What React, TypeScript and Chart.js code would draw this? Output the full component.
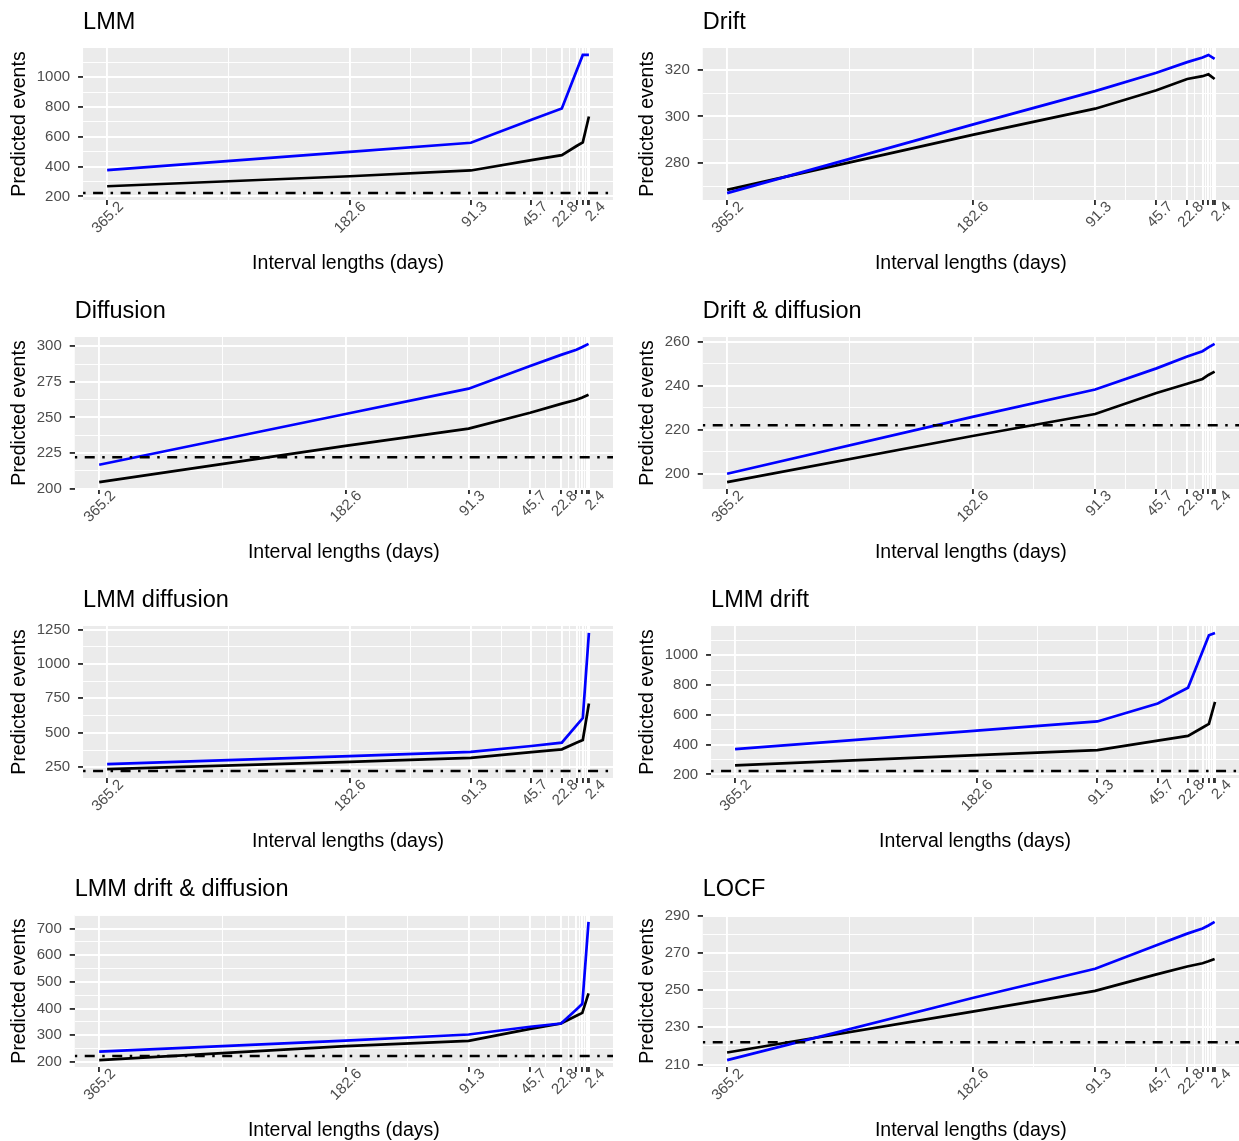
import React, { useEffect, useRef } from 'react';
import { Chart, registerables } from 'chart.js';

Chart.register(...registerables);

// ---------------- data ----------------
const X_DAYS = [365.2, 182.6, 91.3, 45.7, 22.8, 11.4, 7.0, 2.4];
const X_BREAKS = [365.2, 182.6, 91.3, 45.7, 22.8, 11.4, 7.0, 3.5, 2.4];
const X_LABELS = ['365.2', '182.6', '91.3', '45.7', '22.8', '2.4'];
const OBSERVED_EVENTS = 222;

const TITLES = [
  'LMM',
  'Drift',
  'Diffusion',
  'Drift & diffusion',
  'LMM diffusion',
  'LMM drift',
  'LMM drift & diffusion',
  'LOCF',
];
const HAS_OBSERVED = [true, false, true, true, true, true, true, true];

const LMM_BLUE = [376, 499, 560, 714, 790, 1050, 1150, 1150];
const LMM_BLACK = [268, 335, 374, 443, 477, 540, 563, 736];
const DRIFT_BLUE = [267.2, 296.5, 310.8, 318.7, 323.2, 325.2, 326.3, 324.6];
const DRIFT_BLACK = [268.6, 292.1, 303.3, 311.2, 316.0, 317.2, 318.0, 316.0];
const DIFF_BLUE = [216.7, 252.4, 270.2, 286.2, 294.0, 297.6, 299.5, 301.7];
const DIFF_BLACK = [204.5, 230.0, 242.1, 253.3, 259.5, 262.4, 264.0, 266.0];
const DRIFTDIFF_BLUE = [200.0, 225.8, 238.2, 247.8, 253.2, 255.6, 257.3, 258.9];
const DRIFTDIFF_BLACK = [196.2, 217.1, 227.1, 236.6, 240.8, 243.0, 244.8, 246.3];
const LMMDIFF_BLUE = [272, 331, 362, 404, 428, 557, 607, 1225];
const LMMDIFF_BLACK = [236, 289, 318, 360, 380, 429, 448, 712];
const LMMDRIFT_BLUE = [369, 494, 555, 675, 781, 1035, 1133, 1149];
const LMMDRIFT_BLACK = [261, 329, 363, 426, 458, 516, 539, 686];
const LMMDD_BLUE = [239, 280, 303, 332, 344, 397, 418, 725];
const LMMDD_BLACK = [207, 259, 279, 324, 344, 373, 384, 457];
const LOCF_BLUE = [212.4, 245.8, 261.5, 274.2, 280.4, 283.2, 284.8, 286.7];
const LOCF_BLACK = [216.5, 238.5, 249.6, 258.5, 262.7, 264.5, 265.5, 266.7];

const LMM_YTICKS = [200, 400, 600, 800, 1000];
const DRIFT_YTICKS = [280, 300, 320];
const DIFF_YTICKS = [200, 225, 250, 275, 300];
const DRIFTDIFF_YTICKS = [200, 220, 240, 260];
const LMMDIFF_YTICKS = [250, 500, 750, 1000, 1250];
const LMMDRIFT_YTICKS = [200, 400, 600, 800, 1000];
const LMMDD_YTICKS = [200, 300, 400, 500, 600, 700];
const LOCF_YTICKS = [210, 230, 250, 270, 290];

const BLUE_SERIES = [LMM_BLUE, DRIFT_BLUE, DIFF_BLUE, DRIFTDIFF_BLUE, LMMDIFF_BLUE, LMMDRIFT_BLUE, LMMDD_BLUE, LOCF_BLUE];
const BLACK_SERIES = [LMM_BLACK, DRIFT_BLACK, DIFF_BLACK, DRIFTDIFF_BLACK, LMMDIFF_BLACK, LMMDRIFT_BLACK, LMMDD_BLACK, LOCF_BLACK];
const Y_TICKS = [LMM_YTICKS, DRIFT_YTICKS, DIFF_YTICKS, DRIFTDIFF_YTICKS, LMMDIFF_YTICKS, LMMDRIFT_YTICKS, LMMDD_YTICKS, LOCF_YTICKS];

// ---------------- style ----------------
const FONT = '"Liberation Sans", Arial, Helvetica, sans-serif';
const ROW_H = 289;
const COL_X = [0, 620];
const COL_W = [620, 619];

type Tk = { value: number; minor: boolean };

function expandRange(vals: number[]): [number, number] {
  const lo = Math.min(...vals);
  const hi = Math.max(...vals);
  const pad = (hi - lo) * 0.05;
  return [lo - pad, hi + pad];
}

function withMinor(breaks: number[], lo: number, hi: number): Tk[] {
  const b = [...breaks].sort((a, c) => a - c);
  const ext = [b[0] - (b[1] - b[0]), ...b, b[b.length - 1] + (b[b.length - 1] - b[b.length - 2])];
  const out: Tk[] = b.map((v) => ({ value: v, minor: false }));
  for (let i = 0; i < ext.length - 1; i++) out.push({ value: (ext[i] + ext[i + 1]) / 2, minor: true });
  return out.filter((t) => t.value >= lo && t.value <= hi).sort((a, c) => a.value - c.value);
}

function buildConfig(i: number): any {
  const col = i % 2;
  const blue = BLUE_SERIES[i];
  const black = BLACK_SERIES[i];
  const observed = HAS_OBSERVED[i];
  const yvals = [...blue, ...black];
  if (observed) yvals.push(OBSERVED_EVENTS);
  const [ylo, yhi] = expandRange(yvals);
  const [xlo, xhi] = expandRange(X_DAYS);
  const xTicks = withMinor(X_BREAKS, xlo, xhi);
  const yTicks = withMinor(Y_TICKS[i], ylo, yhi);

  const gridCommon = {
    color: '#FFFFFF',
    lineWidth: (ctx: any) => (ctx.tick && ctx.tick.minor ? 0.95 : 1.9),
    tickLength: 5,
    tickWidth: 1.9,
    tickColor: (ctx: any) => (ctx.tick && ctx.tick.minor ? 'rgba(0,0,0,0)' : '#333333'),
    drawOnChartArea: true,
  };

  const bgPlugin = {
    id: 'panelBg' + i,
    beforeDraw(chart: any) {
      const { ctx, chartArea: a } = chart;
      ctx.save();
      ctx.fillStyle = '#EBEBEB';
      ctx.fillRect(a.left, a.top, a.right - a.left, a.bottom - a.top);
      ctx.restore();
    },
  };

  const hlinePlugin = {
    id: 'observed' + i,
    afterDatasetsDraw(chart: any) {
      if (!observed) return;
      const { ctx, chartArea: a, scales } = chart;
      const y = scales.y.getPixelForValue(OBSERVED_EVENTS);
      ctx.save();
      ctx.beginPath();
      ctx.rect(a.left, a.top, a.right - a.left, a.bottom - a.top);
      ctx.clip();
      ctx.setLineDash([2.5, 7.5, 10, 7.5]);
      ctx.lineWidth = 2.5;
      ctx.lineCap = 'butt';
      ctx.strokeStyle = '#000000';
      ctx.beginPath();
      ctx.moveTo(a.left, y);
      ctx.lineTo(a.right, y);
      ctx.stroke();
      ctx.restore();
    },
  };

  return {
    type: 'line',
    data: {
      datasets: [
        {
          data: X_DAYS.map((x, k) => ({ x, y: blue[k] })),
          borderColor: '#0000FF',
          borderWidth: 2.7,
          pointRadius: 0,
          tension: 0,
          fill: false,
        },
        {
          data: X_DAYS.map((x, k) => ({ x, y: black[k] })),
          borderColor: '#000000',
          borderWidth: 2.7,
          pointRadius: 0,
          tension: 0,
          fill: false,
        },
      ],
    },
    options: {
      responsive: false,
      animation: false,
      devicePixelRatio: 1,
      layout: { padding: { left: 0, right: col === 0 ? 7 : 0, top: 0, bottom: 14 } },
      plugins: {
        legend: { display: false },
        tooltip: { enabled: false },
        title: {
          display: true,
          text: TITLES[i],
          align: 'start',
          fullSize: false,
          color: '#000000',
          font: { family: FONT, size: 23.5, weight: 'normal' },
          padding: { top: 8.4, bottom: 11.4 },
        },
      },
      scales: {
        x: {
          type: 'linear',
          reverse: true,
          min: xlo,
          max: xhi,
          afterBuildTicks: (s: any) => {
            s.ticks = xTicks.map((t) => ({ ...t }));
          },
          afterFit: (s: any) => {
            s.height = 75;
          },
          ticks: {
            autoSkip: false,
            minRotation: 45,
            maxRotation: 45,
            padding: -7,
            labelOffset: 14,
            color: '#4D4D4D',
            font: { family: FONT, size: 15 },
            callback: (v: number, idx: number, ticks: any[]) => {
              if (ticks[idx] && ticks[idx].minor) return '';
              const s = Number(v).toFixed(1);
              return X_LABELS.includes(s) ? s : '';
            },
          },
          grid: gridCommon,
          border: { display: false },
          title: {
            display: true,
            text: 'Interval lengths (days)',
            color: '#000000',
            font: { family: FONT, size: 19.5 },
            padding: { top: 0, bottom: -0.5 },
          },
        },
        y: {
          type: 'linear',
          min: ylo,
          max: yhi,
          afterBuildTicks: (s: any) => {
            s.ticks = yTicks.map((t) => ({ ...t }));
          },
          afterFit: (s: any) => {
            s.width -= 8;
          },
          ticks: {
            autoSkip: false,
            padding: 8,
            color: '#4D4D4D',
            font: { family: FONT, size: 15 },
            callback: (v: number, idx: number, ticks: any[]) =>
              ticks[idx] && ticks[idx].minor ? '' : String(v),
          },
          grid: gridCommon,
          border: { display: false },
          title: {
            display: true,
            text: 'Predicted events',
            color: '#000000',
            font: { family: FONT, size: 19.5 },
            padding: { top: col === 0 ? 8.3 : 16.3, bottom: 5 },
          },
        },
      },
    },
    plugins: [bgPlugin, hlinePlugin],
  };
}

function Panel({ index }: { index: number }) {
  const ref = useRef<HTMLCanvasElement | null>(null);
  const col = index % 2;
  const row = Math.floor(index / 2);
  useEffect(() => {
    if (!ref.current) return;
    const chart = new Chart(ref.current, buildConfig(index));
    return () => chart.destroy();
  }, [index]);
  return (
    <canvas
      ref={ref}
      width={COL_W[col]}
      height={ROW_H}
      style={{
        position: 'absolute',
        left: COL_X[col],
        top: row * ROW_H,
        width: COL_W[col],
        height: ROW_H,
      }}
    />
  );
}

export default function App() {
  return (
    <div
      style={{
        position: 'fixed',
        left: 0,
        top: 0,
        width: 1239,
        height: 1141,
        overflow: 'hidden',
        background: '#FFFFFF',
      }}
    >
      {TITLES.map((_, i) => (
        <Panel key={i} index={i} />
      ))}
    </div>
  );
}
